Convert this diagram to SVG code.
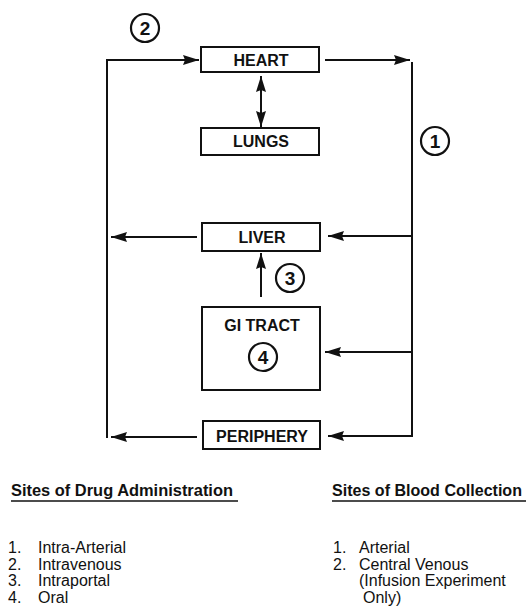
<svg xmlns="http://www.w3.org/2000/svg" width="526" height="607" viewBox="0 0 526 607">
<defs>
<style>
.box{fill:#fff;stroke:#111;stroke-width:2}
.lbl{font-family:"Liberation Sans",Arial,sans-serif;font-weight:bold;font-size:16px;fill:#111;text-anchor:middle}
.num{font-family:"Liberation Sans",Arial,sans-serif;font-weight:bold;font-size:19px;fill:#111;text-anchor:middle}
.ring{fill:none;stroke:#111;stroke-width:2.2}
.ln{fill:none;stroke:#111;stroke-width:2}
.hd{font-family:"Liberation Sans",Arial,sans-serif;font-weight:bold;font-size:16.5px;fill:#111}
.tx{font-family:"Liberation Sans",Arial,sans-serif;font-size:16px;fill:#111}
</style>
<marker id="ah" viewBox="0 0 16 10" refX="16" refY="5" markerWidth="16" markerHeight="10" markerUnits="userSpaceOnUse" orient="auto">
<path d="M0,0 L16,5 L0,10 L2,5 z" fill="#111"/>
</marker>
<marker id="ahs" viewBox="0 0 16 10" refX="0" refY="5" markerWidth="16" markerHeight="10" markerUnits="userSpaceOnUse" orient="auto">
<path d="M16,0 L0,5 L16,10 L14,5 z" fill="#111"/>
</marker>
</defs>
<rect width="526" height="607" fill="#fff"/>

<g id="connectors">
<polyline class="ln" points="107,438 107,60 199,60" marker-end="url(#ah)"/>
<line class="ln" x1="325" y1="60" x2="410" y2="60" marker-end="url(#ah)"/>
<line class="ln" x1="412" y1="62" x2="412" y2="437"/>
<line class="ln" x1="261" y1="76" x2="261" y2="127" marker-start="url(#ahs)" marker-end="url(#ah)"/>
<line class="ln" x1="412" y1="236" x2="328" y2="236" marker-end="url(#ah)"/>
<line class="ln" x1="197" y1="237" x2="111" y2="237" marker-end="url(#ah)"/>
<line class="ln" x1="261" y1="297" x2="261" y2="253" marker-end="url(#ah)"/>
<line class="ln" x1="412" y1="352" x2="325" y2="352" marker-end="url(#ah)"/>
<line class="ln" x1="412" y1="436" x2="328" y2="436" marker-end="url(#ah)"/>
<line class="ln" x1="197" y1="437" x2="111" y2="437" marker-end="url(#ah)"/>
</g>

<g id="heart">
<rect class="box" x="201" y="47" width="118" height="25"/>
<text class="lbl" x="261" y="65.5">HEART</text>
</g>
<g id="lungs">
<rect class="box" x="201" y="128" width="118" height="27"/>
<text class="lbl" x="261" y="147">LUNGS</text>
</g>
<g id="liver">
<rect class="box" x="202" y="223" width="118" height="28"/>
<text class="lbl" x="262" y="242.5">LIVER</text>
</g>
<g id="gi-tract">
<rect class="box" x="202" y="307" width="118" height="83"/>
<text class="lbl" x="262" y="331">GI TRACT</text>
<circle class="ring" cx="263" cy="357" r="14"/>
<text class="num" x="263" y="364">4</text>
</g>
<g id="periphery">
<rect class="box" x="203" y="421" width="117" height="28"/>
<text class="lbl" x="262" y="442">PERIPHERY</text>
</g>

<g id="site-2">
<circle class="ring" cx="145" cy="28" r="14"/>
<text class="num" x="145" y="35">2</text>
</g>
<g id="site-1">
<circle class="ring" cx="435" cy="141" r="14"/>
<text class="num" x="435" y="148">1</text>
</g>
<g id="site-3">
<circle class="ring" cx="290" cy="278" r="14"/>
<text class="num" x="290" y="285">3</text>
</g>

<g id="legend-drug">
<text class="hd" x="11" y="496" textLength="222" lengthAdjust="spacingAndGlyphs">Sites of Drug Administration</text>
<line x1="11" y1="501" x2="238" y2="501" stroke="#111" stroke-width="1.5"/>
<text class="tx" x="8" y="553">1.</text><text class="tx" x="38" y="553">Intra-Arterial</text>
<text class="tx" x="8" y="569.5">2.</text><text class="tx" x="38" y="569.5">Intravenous</text>
<text class="tx" x="8" y="586">3.</text><text class="tx" x="38" y="586">Intraportal</text>
<text class="tx" x="8" y="602.5">4.</text><text class="tx" x="38" y="602.5">Oral</text>
</g>
<g id="legend-blood">
<text class="hd" x="332" y="496" textLength="190" lengthAdjust="spacingAndGlyphs">Sites of Blood Collection</text>
<line x1="332" y1="501" x2="526" y2="501" stroke="#111" stroke-width="1.5"/>
<text class="tx" x="333" y="553">1.</text><text class="tx" x="359" y="553">Arterial</text>
<text class="tx" x="333" y="569.5">2.</text><text class="tx" x="359" y="569.5">Central Venous</text>
<text class="tx" x="359" y="586">(Infusion Experiment</text>
<text class="tx" x="363" y="602.5">Only)</text>
</g>
</svg>
